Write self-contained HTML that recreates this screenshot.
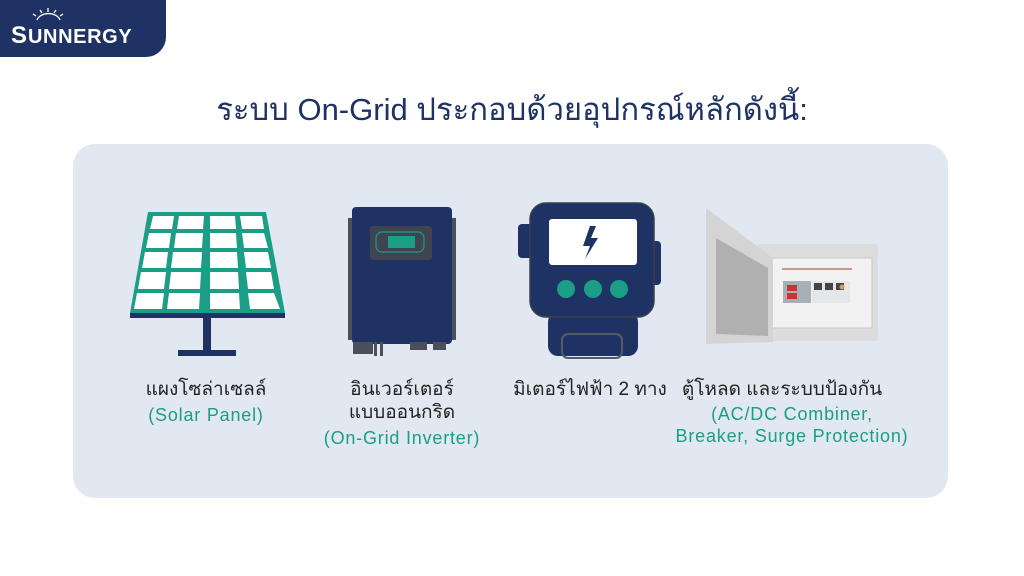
<!DOCTYPE html>
<html><head><meta charset="utf-8"><style>
body{margin:0;width:1024px;height:576px;background:#fff;position:relative;overflow:hidden;font-family:"Liberation Sans","Noto Sans CJK SC",sans-serif}
.t{position:absolute;text-align:center;white-space:nowrap}
.k{color:#222;font-size:19px}
.g{color:#1a9e86;font-size:18px;letter-spacing:0.8px}
</style></head><body>
<div style="position:absolute;left:0;top:0;width:166px;height:57px;background:#1e3263;border-bottom-right-radius:20px"></div>
<svg style="position:absolute;left:0;top:0" width="170" height="60">
<g stroke="#fff" stroke-width="1.3" fill="none"><path d="M37 20 A12 9 0 0 1 60 20"/><line x1="48" y1="8" x2="48" y2="12"/><line x1="40" y1="10" x2="42" y2="13"/><line x1="56" y1="10" x2="54" y2="13"/><line x1="33" y1="14" x2="36" y2="16"/><line x1="63" y1="14" x2="60" y2="16"/></g>
<text x="11" y="43" font-family="Liberation Sans" font-weight="bold" font-size="24" fill="#fff">S</text>
<text x="28" y="43" font-family="Liberation Sans" font-weight="bold" font-size="20" fill="#fff" letter-spacing="0.6">UNNERGY</text>
</svg>
<div class="t" style="left:0;width:1024px;top:84px;font-size:31px;color:#1e3263">ระบบ On-Grid ประกอบด้วยอุปกรณ์หลักดังนี้:</div>
<div style="position:absolute;left:73px;top:144px;width:875px;height:354px;background:#e1e8f1;border-radius:22px"></div>
<svg style="position:absolute;left:0;top:0" width="1024" height="576">
<polygon points="148,212 266,212 285,313 130,313" fill="#1a9e86"/>
<polygon points="130,313 285,313 285,318 130,318" fill="#1e3263"/>
<g fill="#fff">
<polygon points="153,216 174,216 172,229 150,229"/><polygon points="179,216 204,216 203,229 177,229"/><polygon points="210,216 235,216 236,229 210,229"/><polygon points="240,216 262,216 264,229 242,229"/>
<polygon points="149,233 171,233 169,248 146,248"/><polygon points="176,233 203,233 202,248 174,248"/><polygon points="210,233 236,233 237,248 210,248"/><polygon points="242,233 264,233 268,248 244,248"/>
<polygon points="145,252 168,252 166,268 142,268"/><polygon points="173,252 202,252 201,268 171,268"/><polygon points="210,252 237,252 238,268 210,268"/><polygon points="244,252 268,252 271,268 246,268"/>
<polygon points="141,272 166,272 164,289 138,289"/><polygon points="171,272 201,272 200,289 169,289"/><polygon points="210,272 238,272 239,289 210,289"/><polygon points="246,272 271,272 274,289 248,289"/>
<polygon points="137,293 164,293 162,309 134,309"/><polygon points="169,293 200,293 199,309 167,309"/><polygon points="210,293 239,293 240,309 210,309"/><polygon points="248,293 274,293 280,309 250,309"/>
</g>
<rect x="203" y="318" width="8" height="34" fill="#1e3263"/><rect x="178" y="350" width="58" height="6" fill="#1e3263"/>
<rect x="348" y="218" width="108" height="122" fill="#4a4f5a"/>
<rect x="352" y="207" width="100" height="137" rx="4" fill="#1e3263"/>
<rect x="370" y="226" width="62" height="34" rx="3" fill="#3f4450"/>
<rect x="376" y="232" width="48" height="20" rx="6" fill="none" stroke="#1a9e86" stroke-width="1.2"/>
<rect x="388" y="236" width="27" height="12" fill="#1a9e86"/>
<rect x="353" y="342" width="20" height="12" fill="#4a4f5a"/><rect x="374" y="342" width="3" height="14" fill="#4a4f5a"/><rect x="380" y="342" width="3" height="14" fill="#4a4f5a"/><rect x="410" y="342" width="17" height="8" fill="#4a4f5a"/><rect x="433" y="342" width="13" height="8" fill="#4a4f5a"/>
<rect x="518" y="224" width="18" height="34" rx="4" fill="#1e3263"/>
<rect x="648" y="241" width="13" height="44" rx="4" fill="#1e3263"/>
<rect x="548" y="312" width="90" height="44" rx="10" fill="#1e3263"/>
<rect x="562" y="334" width="60" height="24" rx="6" fill="none" stroke="#555a66" stroke-width="2"/>
<rect x="530" y="203" width="124" height="114" rx="16" fill="#1e3263" stroke="#3a3f4a" stroke-width="1.5"/>
<rect x="549" y="219" width="88" height="46" rx="3" fill="#fff"/>
<polygon points="590,226 583,246 590,246 585,259 598,238 591,238 596,226" fill="#1e3263"/>
<circle cx="566" cy="289" r="9" fill="#1a9e86"/><circle cx="593" cy="289" r="9" fill="#1a9e86"/><circle cx="619" cy="289" r="9" fill="#1a9e86"/>
<rect x="757" y="244" width="121" height="97" rx="3" fill="#dcdcdc"/>
<rect x="772" y="258" width="100" height="70" fill="#f2f2f2" stroke="#c8c8c8"/>
<rect x="782" y="268" width="70" height="2" fill="#c49a8a"/>
<rect x="783" y="281" width="28" height="22" fill="#a8b0b6"/><rect x="787" y="285" width="10" height="6" fill="#c33"/><rect x="787" y="293" width="10" height="6" fill="#c33"/>
<rect x="812" y="281" width="38" height="22" fill="#e4e6e8"/><rect x="814" y="283" width="8" height="7" fill="#444"/><rect x="825" y="283" width="8" height="7" fill="#444"/><rect x="836" y="283" width="8" height="7" fill="#444"/><circle cx="842" cy="287" r="2.5" fill="#d0a050"/>
<polygon points="706,208 773,258 773,342 706,344" fill="#d4d4d4"/>
<polygon points="716,238 768,268 768,336 716,334" fill="#b0b0b0"/>
</svg>
<div class="t k" style="left:106px;width:200px;top:374px">แผงโซล่าเซลล์</div>
<div class="t g" style="left:106px;width:200px;top:405px">(Solar Panel)</div>
<div class="t k" style="left:302px;width:200px;top:374px">อินเวอร์เตอร์</div>
<div class="t k" style="left:302px;width:200px;top:397px">แบบออนกริด</div>
<div class="t g" style="left:282px;width:240px;top:428px">(On-Grid Inverter)</div>
<div class="t k" style="left:490px;width:200px;top:374px">มิเตอร์ไฟฟ้า 2 ทาง</div>
<div class="t k" style="left:672px;width:220px;top:374px">ตู้โหลด และระบบป้องกัน</div>
<div class="t g" style="left:652px;width:280px;top:404px">(AC/DC Combiner,</div>
<div class="t g" style="left:652px;width:280px;top:426px">Breaker, Surge Protection)</div>
</body></html>
